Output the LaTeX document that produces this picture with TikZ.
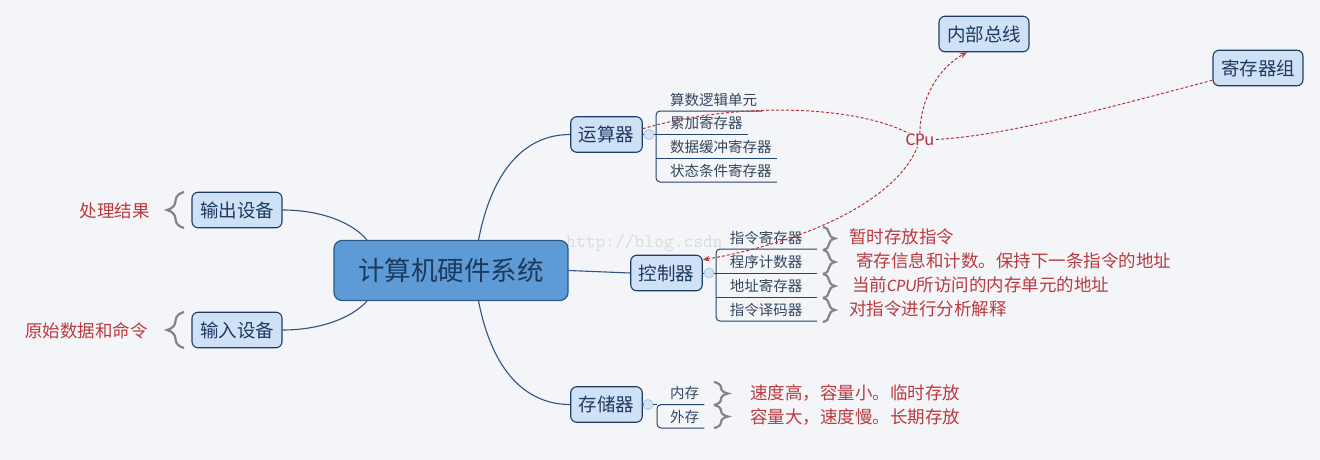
\documentclass[tikz,border=0pt]{standalone}
\usepackage{fontspec}
\setmainfont{Noto Sans CJK SC}
\newfontfamily\carlito{Carlito}
\usetikzlibrary{decorations.pathreplacing,arrows.meta,calc}
\definecolor{bgc}{HTML}{F3F5F8}
\definecolor{rootfill}{HTML}{5E9BD6}
\definecolor{rootborder}{HTML}{2C5A88}
\definecolor{roottext}{HTML}{1B3A5E}
\definecolor{topicfill}{HTML}{CFE1F6}
\definecolor{topicborder}{HTML}{1F3D63}
\definecolor{topictext}{HTML}{1E3A5F}
\definecolor{itemtext}{HTML}{34465E}
\definecolor{treecol}{HTML}{24456D}
\definecolor{conncol}{HTML}{2E5580}
\definecolor{collfill}{HTML}{D3E4F5}
\definecolor{collbord}{HTML}{A9C5E2}
\definecolor{redc}{HTML}{BA3B3F}
\definecolor{relc}{HTML}{B8333B}
\definecolor{bracecol}{HTML}{858585}
\definecolor{wmcol}{HTML}{D8DBE0}
\pgfdeclarelayer{back}
\pgfdeclarelayer{bg}
\pgfdeclarelayer{front}
\pgfsetlayers{back,bg,main,front}
\tikzset{
  rootnode/.style={draw=rootborder, fill=rootfill, line width=1.2pt, rounded corners=8pt,
    minimum width=234pt, minimum height=60pt, text=roottext, font=\fontsize{26.5}{28}\selectfont},
  topic/.style={draw=topicborder, fill=topicfill, line width=1.1pt, rounded corners=6pt,
    minimum height=35.5pt, inner xsep=8pt, inner ysep=0pt, text=topictext, font=\fontsize{18.5}{20}\selectfont},
  item/.style={inner xsep=5pt, inner ysep=1pt, text=itemtext, font=\fontsize{14.5}{16}\selectfont},
  citem/.style={item, minimum width=102pt, inner xsep=0pt},
  tree/.style={draw=treecol, line width=1pt},
  conn/.style={draw=conncol, line width=1.1pt},
  collapse/.style={circle, draw=collbord, fill=collfill, line width=0.8pt, minimum size=10pt, inner sep=0pt},
  redtext/.style={text=redc, font=\fontsize{17.5}{19}\selectfont, inner sep=2pt},
  squiggle/.style={draw=bracecol, line width=2.2pt, decorate, decoration={brace, amplitude=#1, aspect=0.5}},
  rel/.style={draw=relc, line width=1pt, dash pattern=on 3pt off 2pt},
  relarrows/.style={rel, <->, >={Stealth[length=7pt,width=5.5pt]}},
  cpulabel/.style={fill=bgc, inner sep=1pt, text=relc, font=\carlito\fontsize{18}{20}\selectfont},
  watermark/.style={inner sep=0pt, text=wmcol, font=\ttfamily\fontsize{19}{20}\selectfont}
}
\begin{document}
\begin{tikzpicture}[x=1pt,y=-1pt]
\begin{pgfonlayer}{back}
  \fill[bgc] (0,0) rectangle (1320,460);
\end{pgfonlayer}
\useasboundingbox (0,0) rectangle (1320,460);

% main nodes
\node[rootnode] (root) at (451,270.5) {计算机硬件系统};
\node[topic] (yun) at (606.5,134.5) {运算器};
\node[topic] (ctl) at (666.5,273) {控制器};
\node[topic] (mem) at (606.5,404.5) {存储器};
\node[topic] (out) at (237,210) {输出设备};
\node[topic] (inp) at (237,330) {输入设备};
\node[topic] (bus) at (984,34) {内部总线};
\node[topic] (reg) at (1258,68) {寄存器组};

% collapse markers
\node[collapse] (c1) at (649,134.5) {};
\node[collapse] (c2) at (709,273) {};
\node[collapse] (c3) at (648,404.5) {};

% watermark and connectors behind nodes
\begin{pgfonlayer}{bg}
  \node[watermark, anchor=base west] (wm) at (566,247) {http://blog.csdn};
  \draw[conn] (root.48) .. controls (492,170) and (525,134.5) .. (yun.west);
  \draw[conn] (root.-48) .. controls (492,370) and (525,404.5) .. (mem.west);
  \draw[conn] (root.east) -- (ctl.west);
  \draw[conn] (out.east) .. controls (320,210) and (352,222) .. (root.160.3);
  \draw[conn] (inp.east) .. controls (320,330) and (352,318) .. (root.-160.3);
\end{pgfonlayer}

% items of 运算器
\node[item, anchor=west] (y1) at (665,99.5) {算数逻辑单元};
\node[item, anchor=west] (y2) at (665,123) {累加寄存器};
\node[item, anchor=west] (y3) at (665,147) {数据缓冲寄存器};
\node[item, anchor=west] (y4) at (665,170.5) {状态条件寄存器};
\coordinate (ya) at (656,111);
\coordinate (yb) at (656,134.5);
\coordinate (yc) at (656,158);
\coordinate (yd) at (656,182);
\draw[tree, rounded corners=4pt] (y1.east |- ya) -- (ya) -- (yd) -- (y4.east |- yd);
\draw[tree] (yb) -- (y2.east |- yb);
\draw[tree] (yc) -- (y3.east |- yc);
\draw[tree] (yun.east) -- (c1.west);
\draw[tree] (c1.east) -- (yb);

% items of 控制器
\node[citem] (k1) at (766,238) {指令寄存器};
\node[citem] (k2) at (766,262) {程序计数器};
\node[citem] (k3) at (766,286) {地址寄存器};
\node[citem] (k4) at (766,310) {指令译码器};
\coordinate (ka) at (716,249);
\coordinate (kb) at (716,273);
\coordinate (kc) at (716,297);
\coordinate (kd) at (716,321);
\draw[tree, rounded corners=4pt] (k1.east |- ka) -- (ka) -- (kd) -- (k4.east |- kd);
\draw[tree] (kb) -- (k2.east |- kb);
\draw[tree] (kc) -- (k3.east |- kc);
\draw[tree] (ctl.east) -- (c2.west);
\draw[tree] (c2.east) -- (kb);

% items of 存储器
\node[item, anchor=west] (m1) at (665,393) {内存};
\node[item, anchor=west] (m2) at (665,417) {外存};
\coordinate (ma) at (657,404.5);
\coordinate (mb) at (657,428);
\draw[tree, rounded corners=4pt] (m1.east |- ma) -- (ma) -- (mb) -- (m2.east |- mb);
\draw[tree] (mem.east) -- (c3.west);
\draw[tree] (c3.east) -- (ma);

% braces
\draw[squiggle=12pt] (823,227) -- (823,250);
\draw[squiggle=12pt] (823,250) -- (823,274);
\draw[squiggle=12pt] (823,274) -- (823,298);
\draw[squiggle=12pt] (823,298) -- (823,322);
\draw[squiggle=14pt] (714,382) -- (714,405);
\draw[squiggle=14pt] (714,405) -- (714,428);
\draw[squiggle=17pt] (184,228) -- (184,192);
\draw[squiggle=17pt] (184,348) -- (184,312);

% red notes
\node[redtext, anchor=west] (r1) at (847,237) {暂时存放指令};
\node[redtext, anchor=west] (r2) at (854,261) {寄存信息和计数。保持下一条指令的地址};
\node[redtext, anchor=west] (r3) at (850,285) {当前{\carlito\itshape CPU}所访问的内存单元的地址};
\node[redtext, anchor=west] (r4) at (847,309) {对指令进行分析解释};
\node[redtext, anchor=west] (r5) at (748,393) {速度高，容量小。临时存放};
\node[redtext, anchor=west] (r6) at (748,417) {容量大，速度慢。长期存放};
\node[redtext, anchor=east] (r7) at (152,211) {处理结果};
\node[redtext, anchor=east] (r8) at (150,331) {原始数据和命令};

% relationships through the CPu label
\coordinate (cpuc) at (920,140);
\draw[rel] (yun.9) .. controls (740,100) and (870,105) .. (cpuc) .. controls (990,140) and (1100,110) .. (reg.195);
\draw[relarrows] (ctl.20) .. controls (790,245) and (900,205) .. (cpuc) .. controls (918,105) and (935,70) .. (bus.227);
\begin{pgfonlayer}{front}
  \node[cpulabel] (cpu) at (cpuc) {CPu};
\end{pgfonlayer}
\end{tikzpicture}
\end{document}
